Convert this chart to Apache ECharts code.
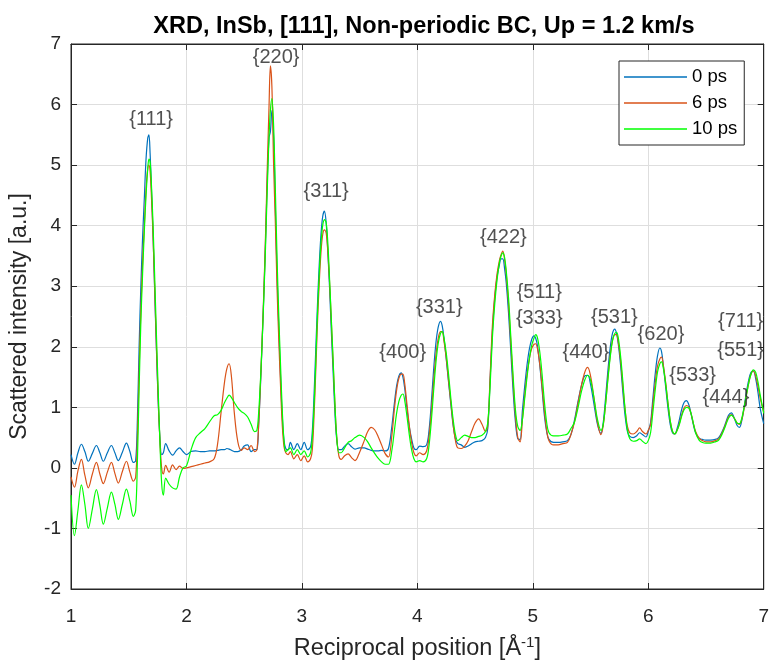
<!DOCTYPE html>
<html>
<head>
<meta charset="utf-8">
<title>XRD InSb</title>
<script src="https://cdn.jsdelivr.net/npm/echarts@6/dist/echarts.min.js"></script>
<style>
  html, body { margin: 0; padding: 0; background: #fff; }
  #chart { width: 772px; height: 669px; }
</style>
</head>
<body>
<div id="chart"></div>
<script>
// Reciprocal position (1/Å), shared by all three curves
const qPos = [
  1.00, 1.03, 1.06, 1.09, 1.12, 1.15, 1.185, 1.22, 1.25, 1.28, 1.315, 1.35, 1.38, 1.41, 1.445, 1.48, 1.51, 1.54,
  1.56, 1.575, 1.59, 1.605, 1.62, 1.635, 1.65, 1.665, 1.675, 1.685, 1.695, 1.71, 1.725, 1.74, 1.755, 1.77, 1.785, 1.80,
  1.82, 1.85, 1.88, 1.91, 1.94, 1.97, 2.00, 2.04, 2.08, 2.12, 2.16, 2.20, 2.24, 2.27, 2.30, 2.33, 2.35, 2.37, 2.39, 2.415, 2.445, 2.475, 2.50, 2.53, 2.56, 2.59,
  2.61, 2.625, 2.64, 2.655, 2.67, 2.685, 2.70, 2.715, 2.727, 2.74, 2.755, 2.77, 2.785, 2.80, 2.815, 2.83, 2.845, 2.86,
  2.88, 2.90, 2.93, 2.96, 2.99, 3.02, 3.05, 3.075,
  3.09, 3.105, 3.12, 3.135, 3.15, 3.165, 3.18, 3.195, 3.21, 3.225, 3.24, 3.255, 3.27, 3.285, 3.30, 3.32,
  3.34, 3.37, 3.40, 3.43, 3.46, 3.50, 3.54, 3.57, 3.60, 3.63, 3.66, 3.69, 3.72, 3.75,
  3.78, 3.80, 3.82, 3.84, 3.86, 3.875, 3.89, 3.91, 3.93, 3.95, 3.97, 3.99,
  4.02, 4.05, 4.08,
  4.10, 4.12, 4.14, 4.16, 4.18, 4.20, 4.215, 4.23, 4.25, 4.27, 4.29, 4.31, 4.33, 4.35,
  4.38, 4.41, 4.44, 4.47, 4.50, 4.53, 4.56, 4.59,
  4.61, 4.63, 4.65, 4.67, 4.69, 4.71, 4.725, 4.74, 4.755, 4.77, 4.79, 4.81, 4.83, 4.85, 4.87, 4.89,
  4.91, 4.93, 4.95, 4.97, 4.99, 5.01, 5.025, 5.04, 5.06, 5.08, 5.10, 5.12, 5.14,
  5.18, 5.22, 5.26, 5.30, 5.33,
  5.36, 5.39, 5.42, 5.45, 5.475, 5.50, 5.53, 5.56, 5.59,
  5.61, 5.63, 5.65, 5.67, 5.69, 5.71, 5.725, 5.74, 5.76, 5.78, 5.80, 5.82, 5.84,
  5.87, 5.90, 5.925, 5.95, 5.98, 6.00,
  6.02, 6.04, 6.06, 6.08, 6.10, 6.115, 6.13, 6.15, 6.17, 6.19, 6.21, 6.23,
  6.25, 6.27, 6.29, 6.31, 6.33, 6.35, 6.37, 6.39, 6.41, 6.44, 6.47,
  6.50, 6.54, 6.58, 6.61, 6.64, 6.67, 6.695, 6.72, 6.745, 6.77, 6.79, 6.81, 6.83, 6.85, 6.87, 6.89, 6.91, 6.93, 6.95, 6.97, 7.00
];

// Scattered intensity at 0 ps
const int0ps = [
  0.22, 0.06, 0.25, 0.39, 0.27, 0.11, 0.24, 0.37, 0.25, 0.11, 0.25, 0.37, 0.25, 0.12, 0.26, 0.41, 0.27, 0.09,
  0.12, 0.8, 2.0, 3.0, 3.8, 4.45, 5.1, 5.45, 5.5, 5.2, 4.7, 3.9, 2.9, 1.95, 1.1, 0.5, 0.22, 0.25,
  0.40, 0.28, 0.21, 0.28, 0.33, 0.27, 0.22, 0.27, 0.28, 0.27, 0.27, 0.28, 0.28, 0.29, 0.30, 0.30, 0.32, 0.31, 0.29, 0.27, 0.27, 0.30, 0.36, 0.38, 0.27, 0.30,
  0.3, 0.7, 1.3, 2.05, 2.85, 3.75, 4.75, 5.45, 5.55, 5.9, 5.45, 4.3, 3.2, 2.3, 1.5, 0.85, 0.45, 0.32,
  0.3, 0.42, 0.3, 0.4, 0.3, 0.42, 0.3, 0.35,
  0.6, 1.2, 1.95, 2.7, 3.35, 3.85, 4.15, 4.24, 4.05, 3.55, 2.95, 2.25, 1.6, 0.95, 0.5, 0.3,
  0.3, 0.36, 0.4, 0.35, 0.31, 0.33, 0.33, 0.31, 0.29, 0.28, 0.28, 0.29, 0.28, 0.32,
  0.7, 1.05, 1.35, 1.52, 1.57, 1.5, 1.32, 0.98, 0.68, 0.48, 0.33, 0.3,
  0.36, 0.35, 0.38,
  0.6, 1.05, 1.6, 2.05, 2.32, 2.42, 2.35, 2.15, 1.8, 1.42, 1.05, 0.7, 0.48, 0.4,
  0.38, 0.34, 0.36, 0.4, 0.43, 0.44, 0.45, 0.5,
  0.65, 1.45, 2.25, 2.8, 3.15, 3.35, 3.45, 3.45, 3.3, 3.05, 2.55, 1.9, 1.25, 0.75, 0.48, 0.47,
  0.95, 1.35, 1.7, 1.96, 2.12, 2.18, 2.14, 2.02, 1.7, 1.3, 0.87, 0.6, 0.47,
  0.42, 0.42, 0.43, 0.45, 0.55,
  0.78, 1.08, 1.35, 1.52, 1.53, 1.38, 1.05, 0.72, 0.57,
  0.75, 1.15, 1.6, 1.98, 2.22, 2.29, 2.22, 2.05, 1.7, 1.25, 0.85, 0.6, 0.52,
  0.5, 0.53, 0.58, 0.55, 0.51, 0.6,
  0.75, 1.15, 1.55, 1.85, 1.98, 1.92, 1.7, 1.35, 1.0, 0.72, 0.58, 0.56,
  0.65, 0.8, 0.97, 1.08, 1.11, 1.05, 0.9, 0.72, 0.58, 0.49, 0.47,
  0.46, 0.46, 0.47, 0.5, 0.6, 0.74, 0.87, 0.91, 0.82, 0.7, 0.67, 0.78, 1.0, 1.25, 1.45, 1.58, 1.6, 1.48, 1.25, 0.98, 0.73
];

// Scattered intensity at 6 ps
const int6ps = [
  -0.15, -0.32, -0.05, 0.14, -0.12, -0.33, -0.10, 0.09, -0.10, -0.26, -0.07, 0.09, -0.09, -0.25, -0.06, 0.11, -0.07, -0.22,
  -0.15, 0.5, 1.6, 2.6, 3.4, 4.0, 4.6, 4.95, 5.0, 4.9, 4.55, 3.85, 2.95, 2.0, 1.15, 0.45, 0.0, -0.1,
  0.04, -0.07, 0.05, -0.03, 0.03, -0.01, 0.0, 0.02, 0.04, 0.06, 0.08, 0.10, 0.15, 0.40, 0.92, 1.42, 1.64, 1.72, 1.5, 0.9, 0.43, 0.29, 0.33, 0.30, 0.37, 0.27,
  0.3, 0.7, 1.35, 2.1, 2.9, 3.85, 4.95, 5.95, 6.64, 6.3, 5.0, 4.05, 2.95, 2.1, 1.35, 0.7, 0.35, 0.25,
  0.22, 0.27, 0.15, 0.22, 0.12, 0.2, 0.1, 0.15,
  0.3, 0.85, 1.6, 2.4, 3.05, 3.55, 3.85, 3.93, 3.88, 3.55, 3.05, 2.4, 1.75, 1.1, 0.55, 0.2,
  0.14, 0.2, 0.23, 0.17, 0.12, 0.26, 0.45, 0.6, 0.67, 0.63, 0.52, 0.38, 0.24, 0.18,
  0.55, 0.95, 1.28, 1.48, 1.55, 1.55, 1.4, 1.05, 0.7, 0.42, 0.25, 0.2,
  0.25, 0.22, 0.28,
  0.5, 0.9, 1.4, 1.85, 2.13, 2.25, 2.25, 2.1, 1.82, 1.45, 1.08, 0.72, 0.45, 0.33,
  0.32, 0.36, 0.45, 0.6, 0.74, 0.81, 0.72, 0.6,
  0.7, 1.5, 2.35, 2.85, 3.2, 3.42, 3.52, 3.58, 3.45, 3.2, 2.7, 2.05, 1.4, 0.85, 0.5, 0.43,
  0.8, 1.2, 1.55, 1.8, 1.97, 2.04, 2.05, 1.97, 1.72, 1.35, 0.95, 0.62, 0.45,
  0.38, 0.38, 0.4, 0.42, 0.55,
  0.75, 1.05, 1.35, 1.58, 1.66, 1.52, 1.15, 0.75, 0.55,
  0.7, 1.05, 1.48, 1.85, 2.1, 2.2, 2.2, 2.08, 1.78, 1.35, 0.95, 0.68, 0.58,
  0.56, 0.6, 0.66, 0.6, 0.56, 0.62,
  0.72, 1.05, 1.4, 1.68, 1.8, 1.83, 1.7, 1.42, 1.08, 0.78, 0.6, 0.56,
  0.62, 0.74, 0.88, 0.99, 1.03, 1.01, 0.9, 0.74, 0.6, 0.49, 0.45,
  0.43, 0.43, 0.45, 0.48, 0.58, 0.72, 0.84, 0.88, 0.82, 0.74, 0.72, 0.8, 0.98, 1.2, 1.4, 1.55, 1.6, 1.52, 1.35, 1.15, 0.92
];

// Scattered intensity at 10 ps
const int10ps = [
  -0.45, -1.12, -0.70, -0.28, -0.60, -1.00, -0.68, -0.36, -0.62, -0.93, -0.66, -0.40, -0.60, -0.85, -0.60, -0.35, -0.55, -0.80,
  -0.7, 0.1, 1.3, 2.4, 3.2, 3.9, 4.5, 4.95, 5.1, 5.05, 4.75, 4.05, 3.15, 2.2, 1.3, 0.45, -0.25, -0.45,
  -0.17, -0.27, -0.33, -0.35, -0.15, 0.0, 0.03, 0.30, 0.50, 0.58, 0.65, 0.76, 0.86, 0.88, 0.95, 1.08, 1.15, 1.20, 1.16, 1.08, 0.99, 0.93, 0.90, 0.84, 0.72, 0.60,
  0.62, 0.9, 1.4, 2.05, 2.8, 3.65, 4.6, 5.45, 5.9, 6.1, 5.65, 4.6, 3.45, 2.5, 1.7, 0.95, 0.45, 0.27,
  0.3, 0.33, 0.22, 0.3, 0.22, 0.28, 0.18, 0.25,
  0.5, 1.0, 1.75, 2.55, 3.2, 3.7, 4.0, 4.1, 4.05, 3.7, 3.1, 2.45, 1.8, 1.1, 0.55, 0.25,
  0.25, 0.33, 0.42, 0.45, 0.5, 0.54, 0.5, 0.43, 0.33, 0.24, 0.16, 0.1, 0.06, 0.06,
  0.3, 0.6, 0.9, 1.1, 1.2, 1.22, 1.12, 0.85, 0.55, 0.3, 0.15, 0.1,
  0.12, 0.1, 0.15,
  0.35, 0.75, 1.25, 1.72, 2.05, 2.22, 2.25, 2.15, 1.9, 1.55, 1.15, 0.8, 0.55, 0.45,
  0.5, 0.54, 0.52, 0.5, 0.5, 0.52, 0.54, 0.6,
  0.75, 1.35, 2.15, 2.7, 3.1, 3.38, 3.5, 3.55, 3.48, 3.25, 2.8, 2.15, 1.5, 0.95, 0.68, 0.62,
  0.8, 1.15, 1.5, 1.8, 2.02, 2.14, 2.2, 2.15, 1.92, 1.55, 1.1, 0.75, 0.58,
  0.53, 0.53, 0.54, 0.56, 0.65,
  0.75, 0.98, 1.25, 1.45, 1.53, 1.45, 1.15, 0.8, 0.62,
  0.72, 1.05, 1.45, 1.82, 2.1, 2.22, 2.24, 2.15, 1.85, 1.42, 0.95, 0.62, 0.48,
  0.44, 0.45, 0.48, 0.44, 0.4, 0.45,
  0.58, 0.92, 1.28, 1.58, 1.72, 1.75, 1.65, 1.4, 1.08, 0.78, 0.6, 0.56,
  0.62, 0.72, 0.86, 0.96, 1.0, 0.99, 0.9, 0.74, 0.58, 0.46, 0.42,
  0.41, 0.41, 0.43, 0.46, 0.56, 0.7, 0.82, 0.87, 0.82, 0.74, 0.73, 0.82, 1.0, 1.2, 1.4, 1.55, 1.62, 1.58, 1.42, 1.2, 0.9
];

// Series names and colours
const seriesNames = ['0 ps', '6 ps', '10 ps'];
const seriesColors = ['#0072BD', '#D95319', '#00FF00'];

// Miller-index annotations and where they sit (data coordinates)
const reflLabels = ['{111}', '{220}', '{311}', '{400}', '{331}', '{422}', '{511}', '{333}', '{440}', '{531}', '{620}', '{533}', '{444}', '{711}', '{551}'];
const reflQ = [1.694, 2.777, 3.21, 3.873, 4.19, 4.745, 5.056, 5.056, 5.46, 5.706, 6.11, 6.384, 6.673, 6.80, 6.80];
const reflI = [5.75, 6.77, 4.57, 1.91, 2.65, 3.81, 2.90, 2.46, 1.91, 2.49, 2.21, 1.53, 1.17, 2.41, 1.94];

// Axis ticks
const xTicks = [1, 2, 3, 4, 5, 6, 7];
const yTicks = [-2, -1, 0, 1, 2, 3, 4, 5, 6, 7];

const FONT = '"Liberation Sans", Arial, Helvetica, sans-serif';
const INK = '#262626';

const chart = echarts.init(document.getElementById('chart'), null, { renderer: 'canvas' });

const curves = [int0ps, int6ps, int10ps].map((vals, k) => ({
  name: seriesNames[k],
  type: 'line',
  xAxisIndex: 0,
  yAxisIndex: 0,
  symbol: 'none',
  smooth: 0.35,
  animation: false,
  lineStyle: { color: seriesColors[k], width: 1.2 },
  itemStyle: { color: seriesColors[k] },
  z: 3 + k,
  data: qPos.map((q, i) => [q, vals[i]])
}));

const labelSeries = {
  name: 'reflections',
  type: 'scatter',
  symbolSize: 0,
  silent: true,
  animation: false,
  z: 10,
  label: {
    show: true,
    position: 'inside',
    formatter: p => p.data[2],
    fontFamily: FONT,
    fontSize: 20,
    color: INK
  },
  data: reflLabels.map((t, i) => [reflQ[i], reflI[i], t])
};

const axisLineStyle = { show: true, onZero: false, lineStyle: { color: INK, width: 1 } };
const tickStyle = { show: true, inside: true, length: 6, lineStyle: { color: INK } };

const baseX = {
  type: 'value',
  min: xTicks[0],
  max: xTicks[xTicks.length - 1],
  interval: 1
};
const baseY = {
  type: 'value',
  min: yTicks[0],
  max: yTicks[yTicks.length - 1],
  interval: 1
};

chart.setOption({
  backgroundColor: '#ffffff',
  animation: false,
  title: {
    text: 'XRD, InSb, [111], Non-periodic BC, Up = 1.2 km/s',
    left: 419,
    top: 10,
    textAlign: 'center',
    textStyle: { fontFamily: FONT, fontSize: 23.5, fontWeight: 'bold', color: '#000' }
  },
  grid: {
    left: 71, right: 8, top: 44, bottom: 80,
    show: true, borderColor: INK, borderWidth: 1, backgroundColor: '#fff'
  },
  legend: {
    data: seriesNames,
    orient: 'vertical',
    left: 619,
    top: 61,
    icon: 'path://M0,0 L63,0 L63,1.3 L0,1.3 Z',
    itemWidth: 63,
    itemHeight: 14,
    itemGap: 6,
    padding: [6, 7, 6, 5],
    backgroundColor: '#fff',
    borderColor: INK,
    borderWidth: 1,
    borderRadius: 0,
    textStyle: { fontFamily: FONT, fontSize: 18.5, lineHeight: 20, color: '#000' }
  },
  xAxis: [
    Object.assign({}, baseX, {
      position: 'bottom',
      name: 'Reciprocal position [Å{sup|-1}]',
      nameLocation: 'middle',
      nameGap: 46,
      nameTextStyle: {
        fontFamily: FONT, fontSize: 23.5, color: INK,
        rich: { sup: { fontFamily: FONT, fontSize: 15, color: INK, verticalAlign: 'top', padding: [0, 0, 12, 0] } }
      },
      axisLine: axisLineStyle,
      axisTick: tickStyle,
      axisLabel: { fontFamily: FONT, fontSize: 19, color: INK, margin: 18 },
      splitLine: { show: true, lineStyle: { color: '#dedede', width: 1 } }
    }),
    Object.assign({}, baseX, {
      position: 'top',
      axisLine: axisLineStyle,
      axisTick: tickStyle,
      axisLabel: { show: false },
      splitLine: { show: false }
    })
  ],
  yAxis: [
    Object.assign({}, baseY, {
      position: 'left',
      name: 'Scattered intensity [a.u.]',
      nameLocation: 'middle',
      nameGap: 40,
      nameTextStyle: { fontFamily: FONT, fontSize: 23, color: INK },
      axisLine: axisLineStyle,
      axisTick: tickStyle,
      axisLabel: { fontFamily: FONT, fontSize: 19, color: INK, margin: 10 },
      splitLine: { show: true, lineStyle: { color: '#dedede', width: 1 } }
    }),
    Object.assign({}, baseY, {
      position: 'right',
      axisLine: axisLineStyle,
      axisTick: tickStyle,
      axisLabel: { show: false },
      splitLine: { show: false }
    })
  ],
  series: curves.concat([labelSeries])
});
</script>
</body>
</html>
